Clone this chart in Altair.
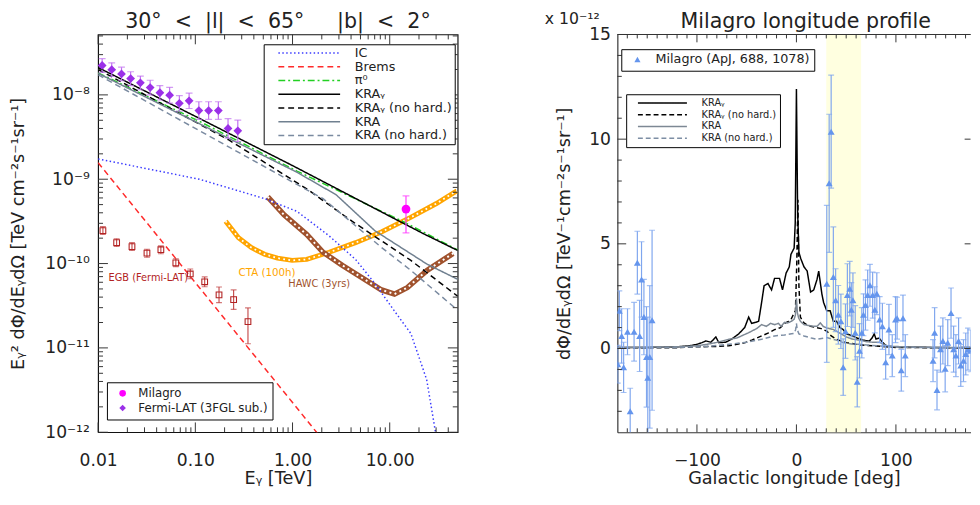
import altair as alt
import pandas as pd

FONT = "DejaVu Sans"
TXT = "#222222"
AXC = "#333333"
NB = "\u00a0"

# ======================= LEFT PANEL DATA (spectra) =======================
LX_DOMAIN = [0.01, 50.0]
LY_DOMAIN = [1.0e-12, 5.2e-8]

series_names = ["IC", "Brems", "π⁰", "KRAᵧ", "KRAᵧ (no hard.)", "KRA", "KRA (no hard.)"]
series_colors = ["#3a3aff", "#ff2a2a", "#22d022", "#000000", "#000000", "#708090", "#7a8aa0"]
series_dashes = [[1.5, 2.5], [6, 4], [7, 3, 2, 3], [1, 0], [6, 4], [1, 0], [6, 4]]

ic_E = [0.01, 0.11, 0.515, 1.11, 2.38, 4.45, 7.06, 11.2, 16.5, 24.0, 29.5, 35.6]
ic_F = [1.74e-9, 1.0e-9, 5.89e-10, 4.16e-10, 2.13e-10, 1.12e-10, 5.77e-11, 2.73e-11, 1.48e-11, 4.2e-12, 1.02e-12, 3.3e-13]
brems_E = [0.01, 0.1, 1.0, 3.0]
brems_F = [1.57e-9, 5.94e-11, 2.25e-12, 4.7e-13]
pi0_E = [0.01, 0.11, 1.11, 14.1, 50.0]
pi0_F = [1.82e-8, 4.86e-9, 1.25e-9, 3.10e-10, 1.45e-10]
kg_E = [0.01, 0.1, 1.0, 10.0, 22.4, 50.0]
kg_F = [2.11e-8, 5.57e-9, 1.45e-9, 3.64e-10, 2.25e-10, 1.43e-10]
kgnh_E = [0.01, 0.221, 1.40, 4.12, 16.5, 50.0]
kgnh_F = [2.0e-8, 2.92e-9, 7.69e-10, 3.16e-10, 1.09e-10, 4.1e-11]
kra_E = [0.01, 1.11, 2.80, 7.06, 24.0, 50.0]
kra_F = [1.80e-8, 1.21e-9, 6.56e-10, 2.44e-10, 9.9e-11, 6.5e-11]
kranh_E = [0.01, 0.883, 2.06, 8.24, 16.5, 50.0]
kranh_F = [1.73e-8, 1.0e-9, 5.89e-10, 1.55e-10, 8.3e-11, 2.8e-11]

cta_E = [0.205, 0.278, 0.376, 0.515, 0.701, 0.991, 1.40, 2.38, 4.45, 8.30, 16.6, 30.2, 49.1]
cta_F = [3.18e-10, 2.02e-10, 1.55e-10, 1.29e-10, 1.16e-10, 1.09e-10, 1.12e-10, 1.36e-10, 1.77e-10, 2.38e-10, 3.55e-10, 5.15e-10, 7.3e-10]
hawc_E = [0.556, 0.818, 1.40, 2.06, 3.27, 5.19, 8.24, 11.2, 15.2, 24.2, 44.8]
hawc_F = [6.17e-10, 3.78e-10, 2.21e-10, 1.36e-10, 9.5e-11, 6.78e-11, 4.87e-11, 4.35e-11, 5.19e-11, 8.3e-11, 1.32e-10]

fermi_E = [0.011, 0.0138, 0.0174, 0.0216, 0.0272, 0.0343, 0.0432, 0.0544, 0.0685, 0.0863, 0.1087, 0.137, 0.1725, 0.217, 0.2735]
fermi_F = [2.23e-8, 1.99e-8, 1.77e-8, 1.56e-8, 1.39e-8, 1.22e-8, 1.06e-8, 9.93e-9, 7.93e-9, 8.51e-9, 6.52e-9, 6.52e-9, 6.52e-9, 4.0e-9, 3.75e-9]
fermi_lo = [1.85e-8, 1.65e-8, 1.47e-8, 1.29e-8, 1.15e-8, 1.0e-8, 8.7e-9, 8.0e-9, 6.4e-9, 6.9e-9, 5.13e-9, 5.13e-9, 5.13e-9, 3.06e-9, 2.80e-9]
fermi_hi = [2.69e-8, 2.40e-8, 2.13e-8, 1.88e-8, 1.67e-8, 1.49e-8, 1.29e-8, 1.23e-8, 9.8e-9, 1.05e-8, 8.29e-9, 8.29e-9, 8.29e-9, 5.22e-9, 5.03e-9]

milagro_E = [14.7]
milagro_F = [4.43e-10]
milagro_lo = [2.31e-10]
milagro_hi = [6.34e-10]

egb_E = [0.0112, 0.0155, 0.0223, 0.0318, 0.0442, 0.0630, 0.0887, 0.1248, 0.1753, 0.2478, 0.348]
egb_F = [2.46e-10, 1.77e-10, 1.59e-10, 1.33e-10, 1.46e-10, 1.02e-10, 7.53e-11, 6.08e-11, 4.26e-11, 3.73e-11, 2.05e-11]
egb_lo = [2.21e-10, 1.59e-10, 1.43e-10, 1.19e-10, 1.31e-10, 9.2e-11, 6.59e-11, 5.32e-11, 3.44e-11, 2.86e-11, 1.12e-11]
egb_hi = [2.74e-10, 1.97e-10, 1.77e-10, 1.48e-10, 1.62e-10, 1.14e-10, 8.61e-11, 6.95e-11, 5.27e-11, 4.87e-11, 2.98e-11]

# annotation anchors (data units)
egb_label = ("EGB (Fermi-LAT)", 0.0128, 6.64e-11)
cta_label = ("CTA (100h)", 0.278, 7.74e-11)
hawc_label = ("HAWC (3yrs)", 0.904, 5.73e-11)

LX_MAJOR = [0.01, 0.1, 1.0, 10.0]
LX_MINOR = [k * d for d in (0.01, 0.1, 1.0, 10.0) for k in range(2, 10) if k * d < 49]
LY_MAJOR = [1e-12, 1e-11, 1e-10, 1e-9, 1e-8]
LY_MINOR = [k * 10.0 ** n for n in range(-12, -7) for k in range(2, 10) if k * 10.0 ** n < 5.1e-8]

# ======================= RIGHT PANEL DATA (longitude profile) =======================
RX_DOMAIN = [-180, 175]
RY_DOMAIN = [-4, 15]
band_l = [30]
band_l2 = [65]

prof_names = ["KRAᵧ", "KRAᵧ (no hard.)", "KRA", "KRA (no hard.)"]
prof_colors = ["#000000", "#000000", "#7d8894", "#7d8ea4"]
prof_dashes = [[1, 0], [5, 3], [1, 0], [5, 3]]

kg_l = [-180, -150, -120, -110, -105, -100, -95, -91, -86, -81, -78, -71, -65, -58, -52, -48, -45, -41, -38, -35,
        -32.5, -28.6, -25, -22, -17, -14, -10.4, -7.2, -5.5, -2.3, -1.2, 0, 1.2, 2.5, 4.3, 7.6, 10.8, 14.2, 17.4,
        20.7, 22.4, 25.6, 27.3, 30.5, 33.9, 37.1, 40.4, 43.7, 47, 50.2, 56.8, 61, 66.7, 73.3, 76, 78.2, 80, 83.2,
        86.4, 89.7, 93, 100, 120, 140, 160, 180]
kg_v = [0.05, 0.05, 0.08, 0.12, 0.15, 0.2, 0.28, 0.36, 0.3, 0.55, 0.28, 0.3, 0.45, 0.7, 1.0, 1.5, 1.2, 1.25, 1.3, 2.2,
        3.0, 3.1, 2.8, 3.35, 3.35, 2.8, 3.6, 3.9, 4.5, 4.8, 6.0, 12.4, 6.5, 4.6, 4.3, 3.9, 3.7, 2.7, 2.8,
        3.3, 3.7, 2.6, 2.2, 1.8, 1.8, 1.3, 1.3, 1.0, 0.9, 0.7, 0.6, 0.5, 0.4, 0.35, 0.5, 0.7, 0.45, 0.5,
        0.3, 0.15, 0.1, 0.08, 0.06, 0.05, 0.04, 0.05]
kgnh_l = [-180, -120, -100, -80, -68, -60, -51.5, -45, -35, -28, -22, -16, -12, -8, -5.5, -2.3, -1, 0.3, 1.5, 2.5,
          4, 7.6, 10, 14.2, 20, 25, 30.5, 35, 40.4, 45, 50.2, 60, 70, 80, 90, 100, 130, 160, 180]
kgnh_v = [0.03, 0.04, 0.08, 0.1, 0.13, 0.2, 0.28, 0.4, 0.6, 0.75, 0.9, 1.0, 1.2, 1.3, 1.38, 1.7, 1.8, 4.0, 7.1, 3.0,
          1.5, 1.22, 1.15, 1.06, 1.0, 0.95, 0.83, 0.6, 0.44, 0.35, 0.28, 0.2, 0.15, 0.12, 0.08, 0.05, 0.04, 0.03, 0.03]
kra_l = [-180, -120, -100, -90, -81, -68, -60, -48.3, -40, -35, -30.2, -26, -22, -18, -15.4, -12, -8.9, -5, -2.3,
         -1, 0, 1, 2.3, 4, 7.6, 12, 17.4, 20.7, 24, 27, 30.5, 37.1, 43, 50.2, 56, 63.4, 70, 76.6, 83.2, 89.7, 96.3,
         110, 140, 180]
kra_v = [0.05, 0.08, 0.13, 0.2, 0.28, 0.44, 0.5, 0.75, 0.95, 1.14, 1.06, 1.2, 1.14, 1.2, 1.06, 1.25, 1.22, 1.3, 1.4,
         1.6, 2.4, 1.7, 1.45, 1.3, 1.14, 1.1, 1.06, 1.06, 1.22, 1.05, 0.98, 0.91, 0.75, 0.55, 0.45, 0.4, 0.33, 0.3,
         0.3, 0.15, 0.1, 0.08, 0.05, 0.05]
kranh_l = [-180, -120, -90, -68, -50, -35, -22, -12, -5, -2.3, -0.8, 0, 0.8, 2.5, 7.6, 15, 20.7, 30.5, 40, 47, 55,
           63.4, 75, 90, 110, 140, 180]
kranh_v = [0.03, 0.05, 0.1, 0.2, 0.3, 0.44, 0.6, 0.65, 0.7, 0.72, 0.9, 1.2, 0.9, 0.7, 0.6, 0.5, 0.44, 0.52, 0.4, 0.28,
           0.22, 0.2, 0.15, 0.1, 0.06, 0.04, 0.03]

mil_l = [-179.6, -178.0, -175.7, -173.7, -169.8, -167.1, -163.2, -159.9, -157.6, -155.7, -153.3, -150.7, -149.4,
         -147.4, -145.1,
         30.5, 32.9, 34.9, 37.1, 39.4, 42.1, 44.7, 47.0, 49.3, 51.2, 53.6, 55.2, 56.8, 59.1, 61.1, 63.4, 65.7, 67.4,
         69.4, 71.6, 73.9, 76.6, 78.8, 80.8, 83.7, 86.4, 89.7, 93.0, 96.3, 99.6, 101.2, 105.4, 107.1, 109.4,
         137.3, 138.9, 141.3, 144.8, 147.2, 149.5, 152.1, 155.4, 158.0, 160.3, 163.0, 165.2, 167.9, 170.2, 172.4, 175.0]
mil_v = [-0.75, 1.8, 0.6, -0.9, 0.8, -3.0, 0.8, 4.1, 0.6, 3.3, 1.5, -0.4, -1.4, -0.4, 1.35,
         3.09, 7.89, 10.36, 3.41, 2.31, 1.61, 1.30, -0.89, 0.83, 2.55, 2.86, 1.85, 2.31, 0.75, -1.59, -0.11, 0.75, 1.61,
         2.08, 2.55, 3.02, 2.55, 1.85, 2.62, 1.38, 1.06, -0.66, 0.91, -0.34, 1.38, 1.45, -1.04, 1.45, -0.34,
         -0.58, 0.75, -1.98, -0.03, 0.36, -0.97, 0.28, 1.69, -0.03, -0.34, 0.36, -0.81, -0.58, -0.26, -0.03, -0.11]
mil_e = [0.9, 0.95, 1.3, 1.2, 1.1, 1.1, 1.4, 1.5, 1.7, 1.8, 1.8, 2.4, 2.9, 3.4, 4.3,
         3.75, 3.3, 2.7, 2.4, 1.5, 1.4, 1.3, 1.35, 1.3, 1.5, 1.3, 1.3, 1.3, 1.3, 1.2, 1.3, 1.2, 1.0,
         1.2, 1.2, 1.0, 1.1, 1.1, 1.0, 1.1, 1.1, 0.8, 1.2, 1.0, 1.1, 1.0, 1.0, 1.1, 1.0,
         1.0, 1.2, 0.95, 1.1, 1.1, 1.1, 1.1, 1.2, 1.1, 1.0, 1.1, 1.0, 1.0, 1.0, 1.0, 1.0]

RX_MAJOR = [-100, 0, 100]
RX_MINOR = [v for v in range(-170, 175, 10) if v % 100 != 0]
RY_MAJOR = [0, 5, 10, 15]
RY_MINOR = [v for v in range(-3, 15) if v % 5 != 0]

# ======================= build left panel =======================
W1, H1 = 367, 406
W2, H2 = 360.5, 406


def long_df(names, xs, ys, xf, yf, sf):
    rows = []
    for n, xx, yy in zip(names, xs, ys):
        for a, b in zip(xx, yy):
            rows.append({xf: a, yf: b, sf: n})
    return pd.DataFrame(rows)


lxs = alt.Scale(type="log", domain=LX_DOMAIN, nice=False)
lys = alt.Scale(type="log", domain=LY_DOMAIN, nice=False)
y_label_expr = ("datum.value < 5e-12 ? '10⁻¹²' : datum.value < 5e-11 ? '10⁻¹¹' : "
                "datum.value < 5e-10 ? '10⁻¹⁰' : datum.value < 5e-9 ? '10⁻⁹' : '10⁻⁸'")
LX = alt.X("E:Q", scale=lxs, axis=alt.Axis(
    values=LX_MAJOR, format=".2f", ticks=False, domain=False, grid=False, labelFlush=False, labelOverlap=False,
    labelFontSize=17.5, labelPadding=20, labelColor=TXT, title="Eᵧ [TeV]", titleFontSize=18,
    titleFontWeight="normal", titlePadding=1, titleColor=TXT))
LY = alt.Y("F:Q", scale=lys, axis=alt.Axis(
    values=LY_MAJOR, labelExpr=y_label_expr, ticks=False, domain=False, grid=False, labelOverlap=False,
    labelFontSize=17.5, labelPadding=9, labelColor=TXT,
    title="Eᵧ² dΦ/dEᵧdΩ [TeV cm⁻²s⁻¹sr⁻¹]", titleFontSize=18, titleFontWeight="normal",
    titlePadding=18, titleColor=TXT))

lines_left = long_df(series_names, [ic_E, brems_E, pi0_E, kg_E, kgnh_E, kra_E, kranh_E],
                     [ic_F, brems_F, pi0_F, kg_F, kgnh_F, kra_F, kranh_F], "E", "F", "s")
LEG_LINES = alt.Legend(title=None, orient="none", legendX=169, legendY=10, symbolType="stroke",
                       symbolSize=3969, symbolStrokeWidth=1.5, clipHeight=14.0, rowPadding=0, padding=2,
                       symbolOffset=12, labelOffset=14, labelFontSize=13, labelColor=TXT, labelLimit=300,
                       strokeColor="black", fillColor="white")
left_lines = alt.Chart(lines_left).mark_line(clip=True, strokeWidth=1.5).encode(
    x=LX, y=LY,
    color=alt.Color("s:N", scale=alt.Scale(domain=series_names, range=series_colors), legend=LEG_LINES),
    strokeDash=alt.StrokeDash("s:N", scale=alt.Scale(domain=series_names, range=series_dashes), legend=LEG_LINES),
)


def err_layers(xs, lo, hi, X, Y, xf, yf, color, cap=6, width=1.2):
    edf = pd.DataFrame({xf: xs, yf: lo, yf + "2": hi})
    cdf = pd.DataFrame({xf: list(xs) + list(xs), yf: list(lo) + list(hi)})
    r = alt.Chart(edf).mark_rule(color=color, strokeWidth=width, clip=True).encode(x=X, y=Y, y2=yf + "2:Q")
    t = alt.Chart(cdf).mark_tick(orient="horizontal", size=cap, thickness=width, color=color, clip=True).encode(x=X, y=Y)
    return [r, t]


cta_df = pd.DataFrame({"E": cta_E, "F": cta_F})
hawc_df = pd.DataFrame({"E": hawc_E, "F": hawc_F})
cta_a = alt.Chart(cta_df).mark_line(color="#ffa500", strokeWidth=5, clip=True).encode(x=LX, y=LY)
cta_b = alt.Chart(cta_df).mark_line(color="white", strokeWidth=1.8, strokeDash=[1.8, 3.4], clip=True).encode(x=LX, y=LY)
hawc_a = alt.Chart(hawc_df).mark_line(color="#a0522d", strokeWidth=5.5, clip=True).encode(x=LX, y=LY)
hawc_b = alt.Chart(hawc_df).mark_line(color="white", strokeWidth=2, strokeDash=[2, 3.5], clip=True).encode(x=LX, y=LY)

egb_df = pd.DataFrame({"E": egb_E, "F": egb_F})
egb_pts = alt.Chart(egb_df).mark_point(shape="square", filled=False, size=34, color="#b22222",
                                        strokeWidth=1.1, opacity=1).encode(x=LX, y=LY)

pt_src = ["Milagro", "Fermi-LAT (3FGL sub.)"]
pts_df = pd.DataFrame({"E": milagro_E + fermi_E, "F": milagro_F + fermi_F,
                       "src": ["Milagro"] * len(milagro_E) + ["Fermi-LAT (3FGL sub.)"] * len(fermi_E)})
LEG_PTS = alt.Legend(title=None, orient="none", legendX=9, legendY=355, symbolSize=45, clipHeight=14.6,
                     rowPadding=0, padding=4, symbolOffset=6, labelOffset=10, labelFontSize=12,
                     labelColor=TXT, strokeColor="black", fillColor="white")
pts = alt.Chart(pts_df).mark_point(filled=True, size=80, opacity=1).encode(
    x=LX, y=LY,
    color=alt.Color("src:N", scale=alt.Scale(domain=pt_src, range=["#ff00ff", "#9b30e8"]), legend=LEG_PTS),
    shape=alt.Shape("src:N", scale=alt.Scale(domain=pt_src, range=["circle", "diamond"]), legend=LEG_PTS),
)


def text_layer(lbl, color, X, Y, size):
    t, e, f = lbl
    df = pd.DataFrame({"E": [e], "F": [f], "t": [t]})
    return alt.Chart(df).mark_text(align="left", baseline="middle", color=color, fontSize=size).encode(
        x=X, y=Y, text="t:N")


def tick_rules_x(field, vals, X, H, L, top=True):
    df = pd.DataFrame({field: vals})
    out = [alt.Chart(df).mark_rule(color=AXC, strokeWidth=1).encode(x=X, y=alt.value(H), y2=alt.value(H - L))]
    if top:
        out.append(alt.Chart(df).mark_rule(color=AXC, strokeWidth=1).encode(x=X, y=alt.value(0), y2=alt.value(L)))
    return out


def tick_rules_y(field, vals, Y, W, L, right=True, right_len=None):
    df = pd.DataFrame({field: vals})
    out = [alt.Chart(df).mark_rule(color=AXC, strokeWidth=1).encode(y=Y, x=alt.value(0), x2=alt.value(L))]
    if right:
        rl = L if right_len is None else right_len
        out.append(alt.Chart(df).mark_rule(color=AXC, strokeWidth=1).encode(y=Y, x=alt.value(W), x2=alt.value(W - rl)))
    return out


left_layers = []
left_layers += [cta_a, cta_b, hawc_a, hawc_b, left_lines]
left_layers += err_layers(egb_E, egb_lo, egb_hi, LX, LY, "E", "F", "#c04040", cap=6, width=1.1)
left_layers += [egb_pts]
left_layers += err_layers(fermi_E, fermi_lo, fermi_hi, LX, LY, "E", "F", "#c070f0", cap=7)
left_layers += err_layers(milagro_E, milagro_lo, milagro_hi, LX, LY, "E", "F", "#ff40ff", cap=7)
left_layers += [pts]
left_layers += [text_layer(egb_label, "#b22222", LX, LY, 10),
                text_layer(cta_label, "#ffa500", LX, LY, 10.5),
                text_layer(hawc_label, "#a0522d", LX, LY, 10)]
left_layers += tick_rules_x("E", LX_MAJOR, LX, H1, 10) + tick_rules_x("E", LX_MINOR, LX, H1, 5)
left_layers += tick_rules_y("F", LY_MAJOR, LY, W1, 10) + tick_rules_y("F", LY_MINOR, LY, W1, 5)

left_title = ("30°" + NB * 2 + "<" + NB * 2 + "|l|" + NB * 2 + "<" + NB * 2 + "65°" + NB * 5
              + "|b|" + NB * 2 + "<" + NB * 2 + "2°")
left = alt.layer(*left_layers).resolve_scale(
    color="independent", shape="independent", strokeDash="independent"
).properties(
    width=W1, height=H1,
    title=alt.Title(left_title, fontSize=21, fontWeight="normal", offset=2, frame="group", color=TXT),
    view=alt.ViewBackground(stroke="#111111", strokeWidth=1.2),
)

# ======================= build right panel =======================
rxs = alt.Scale(domain=RX_DOMAIN, nice=False, zero=False)
rys = alt.Scale(domain=RY_DOMAIN, nice=False, zero=False)
RX = alt.X("l:Q", scale=rxs, axis=alt.Axis(
    values=RX_MAJOR, ticks=False, domain=True, domainColor=AXC, domainWidth=1.2, grid=False, labelFlush=False,
    labelFontSize=17.5, labelPadding=20, labelColor=TXT, title="Galactic longitude [deg]", titleFontSize=18,
    titleFontWeight="normal", titlePadding=1, titleColor=TXT))
RY = alt.Y("v:Q", scale=rys, axis=alt.Axis(
    values=RY_MAJOR, ticks=False, domain=True, domainColor=AXC, domainWidth=1.2, grid=False,
    labelFontSize=17.5, labelPadding=7, labelColor=TXT,
    title="dΦ/dEᵧdΩ [TeV⁻¹cm⁻²s⁻¹sr⁻¹]", titleFontSize=18, titleFontWeight="normal",
    titlePadding=16, titleColor=TXT))

band_df = pd.DataFrame({"l": band_l, "l2": band_l2})
band = alt.Chart(band_df).mark_rect(color="#ffffe0", opacity=1).encode(
    x=RX, x2="l2:Q", y=alt.value(0), y2=alt.value(H2))

prof_df = long_df(prof_names, [kg_l, kgnh_l, kra_l, kranh_l], [kg_v, kgnh_v, kra_v, kranh_v], "l", "v", "s")
LEG_PROF = alt.Legend(title=None, orient="none", legendX=9, legendY=61, symbolType="stroke",
                      symbolSize=2500, symbolStrokeWidth=1.5, clipHeight=11.9, rowPadding=0, padding=3,
                      symbolOffset=8, labelOffset=14, labelFontSize=10, labelColor=TXT, labelLimit=300,
                      strokeColor="black", fillColor="white")
prof = alt.Chart(prof_df).mark_line(clip=True, strokeWidth=1.5).encode(
    x=RX, y=RY,
    color=alt.Color("s:N", scale=alt.Scale(domain=prof_names, range=prof_colors), legend=LEG_PROF),
    strokeDash=alt.StrokeDash("s:N", scale=alt.Scale(domain=prof_names, range=prof_dashes), legend=LEG_PROF),
)

mil_lo = [a - b for a, b in zip(mil_v, mil_e)]
mil_hi = [a + b for a, b in zip(mil_v, mil_e)]
mil_src = "Milagro (ApJ, 688, 1078)"
mil_df = pd.DataFrame({"l": mil_l, "v": mil_v, "src": [mil_src] * len(mil_l)})
LEG_MIL = alt.Legend(title=None, orient="none", legendX=4, legendY=15, symbolType="triangle-up", symbolSize=40,
                     padding=4, symbolOffset=6, labelOffset=12, labelFontSize=13, labelColor=TXT,
                     strokeColor="black", fillColor="white")
mil_pts = alt.Chart(mil_df).mark_point(shape="triangle-up", filled=True, size=50, opacity=1, clip=True).encode(
    x=RX, y=RY,
    color=alt.Color("src:N", scale=alt.Scale(domain=[mil_src], range=["#6495ed"]), legend=LEG_MIL),
)

top_df = pd.DataFrame({"v": [RY_DOMAIN[1]]})
top_line = alt.Chart(top_df).mark_rule(color=AXC, strokeWidth=1.2).encode(y=RY)

scale_txt = alt.Chart(pd.DataFrame({"t": ["x 10⁻¹²"]})).mark_text(
    align="center", baseline="middle", fontSize=16, color=TXT).encode(
    text="t:N", x=alt.value(-46), y=alt.value(-16))

right_layers = [band, prof]
right_layers += err_layers(mil_l, mil_lo, mil_hi, RX, RY, "l", "v", "#7fa6ee", cap=6, width=1.2)
right_layers += [mil_pts, top_line, scale_txt]
right_layers += tick_rules_x("l", RX_MAJOR, RX, H2, 8) + tick_rules_x("l", RX_MINOR, RX, H2, 4)
right_layers += tick_rules_y("v", RY_MAJOR, RY, W2, 9, right=True, right_len=6)
right_layers += tick_rules_y("v", RY_MINOR, RY, W2, 4.5, right=False)

right = alt.layer(*right_layers).resolve_scale(
    color="independent", strokeDash="independent"
).properties(
    width=W2, height=H2,
    title=alt.Title("Milagro longitude profile", fontSize=21, fontWeight="normal", offset=-21, dx=12,
                    frame="group", color=TXT),
    view=alt.ViewBackground(stroke="transparent"),
)

chart = alt.hconcat(left, right, spacing=86).resolve_scale(
    color="independent", strokeDash="independent", shape="independent"
).properties(
    padding={"left": 0, "top": -3, "right": 0, "bottom": 0}
).configure(font=FONT)

chart.save("out.html", embed_options={"renderer": "svg", "actions": False})
